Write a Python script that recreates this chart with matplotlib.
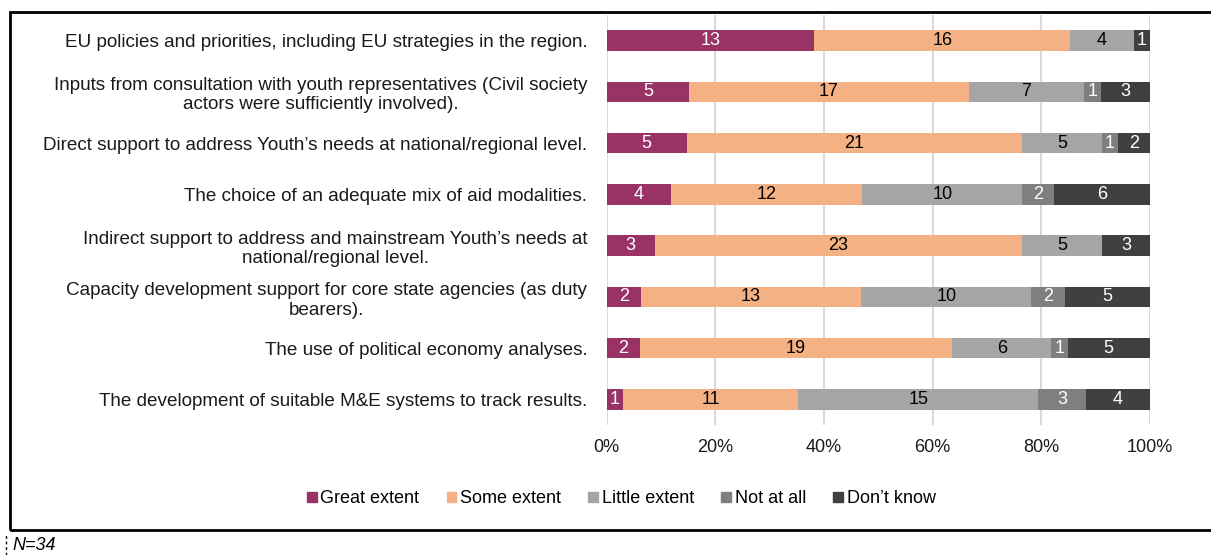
import numpy as np
import matplotlib.pyplot as plt
from matplotlib.patches import Rectangle
from matplotlib.lines import Line2D

plt.rcParams['font.family'] = ['Liberation Sans', 'DejaVu Sans']

# survey items (top to bottom) and answer counts per category
items = [
    "EU policies and priorities, including EU strategies in the region.",
    "Inputs from consultation with youth representatives (Civil society\nactors were sufficiently involved).",
    "Direct support to address Youth\u2019s needs at national/regional level.",
    "The choice of an adequate mix of aid modalities.",
    "Indirect support to address and mainstream Youth\u2019s needs at\nnational/regional level.",
    "Capacity development support for core state agencies (as duty\nbearers).",
    "The use of political economy analyses.",
    "The development of suitable M&E systems to track results.",
]
categories = ["Great extent", "Some extent", "Little extent", "Not at all", "Don\u2019t know"]
great = [13, 5, 5, 4, 3, 2, 2, 1]
some = [16, 17, 21, 12, 23, 13, 19, 11]
little = [4, 7, 5, 10, 5, 10, 6, 15]
not_at_all = [0, 1, 1, 2, 0, 2, 1, 3]
dont_know = [1, 3, 2, 6, 3, 5, 5, 4]

colors = ["#993366", "#F4B183", "#A5A5A5", "#7F7F7F", "#404040"]
text_colors = ["white", "black", "black", "white", "white"]
FS = 13

counts = np.array([great, some, little, not_at_all, dont_know], dtype=float)
totals = counts.sum(axis=0)
shares = counts / totals

fig = plt.figure(figsize=(12.11, 5.55), dpi=100)
ax = fig.add_axes([0.501, 0.234, 0.4486, 0.739])

y = np.arange(len(items))
left = np.zeros(len(items))
for i, cat in enumerate(categories):
    bars = ax.barh(y, shares[i], left=left, height=0.4, color=colors[i],
                   label=cat, zorder=3)
    for j, b in enumerate(bars):
        if counts[i, j] > 0:
            ax.text(left[j] + shares[i, j] / 2, y[j], f"{int(counts[i, j])}",
                    ha="center", va="center", color=text_colors[i],
                    fontsize=FS, zorder=4)
    left += shares[i]

ax.set_ylim(len(items) - 0.5, -0.5)
ax.set_xlim(0, 1)
ax.set_yticks(y)
ax.set_yticklabels(items, fontsize=13.6, multialignment="center", color="#1a1a1a")
ax.set_xticks(np.linspace(0, 1, 6))
ax.set_xticklabels([f"{int(v)}%" for v in np.linspace(0, 100, 6)], fontsize=FS,
                   color="#1a1a1a")
ax.tick_params(axis="x", length=0, pad=10)
ax.tick_params(axis="y", length=0, pad=14)
ax.grid(axis="x", color="#D9D9D9", linewidth=1.5, zorder=0)
for s in ax.spines.values():
    s.set_visible(False)

handles = [Rectangle((0, 0), 1, 1, color=c) for c in colors]
fig.legend(handles, categories, loc="center", bbox_to_anchor=(0.513, 0.101),
           ncol=5, frameon=False, fontsize=FS, handlelength=0.55,
           handleheight=0.55, handletextpad=0.2, columnspacing=1.5)

# outer chart border and note below
fig.add_artist(Rectangle((10 / 1211, 1 - 530 / 555), 1.2, (530 - 12) / 555,
                         transform=fig.transFigure, fill=False,
                         edgecolor="black", linewidth=2, clip_on=False))
fig.add_artist(Line2D([6 / 1211, 6 / 1211], [0, 1 - 534 / 555],
                      transform=fig.transFigure, color="black",
                      linewidth=1, linestyle=(0, (2, 2))))
fig.text(12 / 1211, 1 - 545 / 555, "N=34", fontsize=13, style="italic",
         va="center", ha="left")

fig.savefig("out.png", dpi=100)
